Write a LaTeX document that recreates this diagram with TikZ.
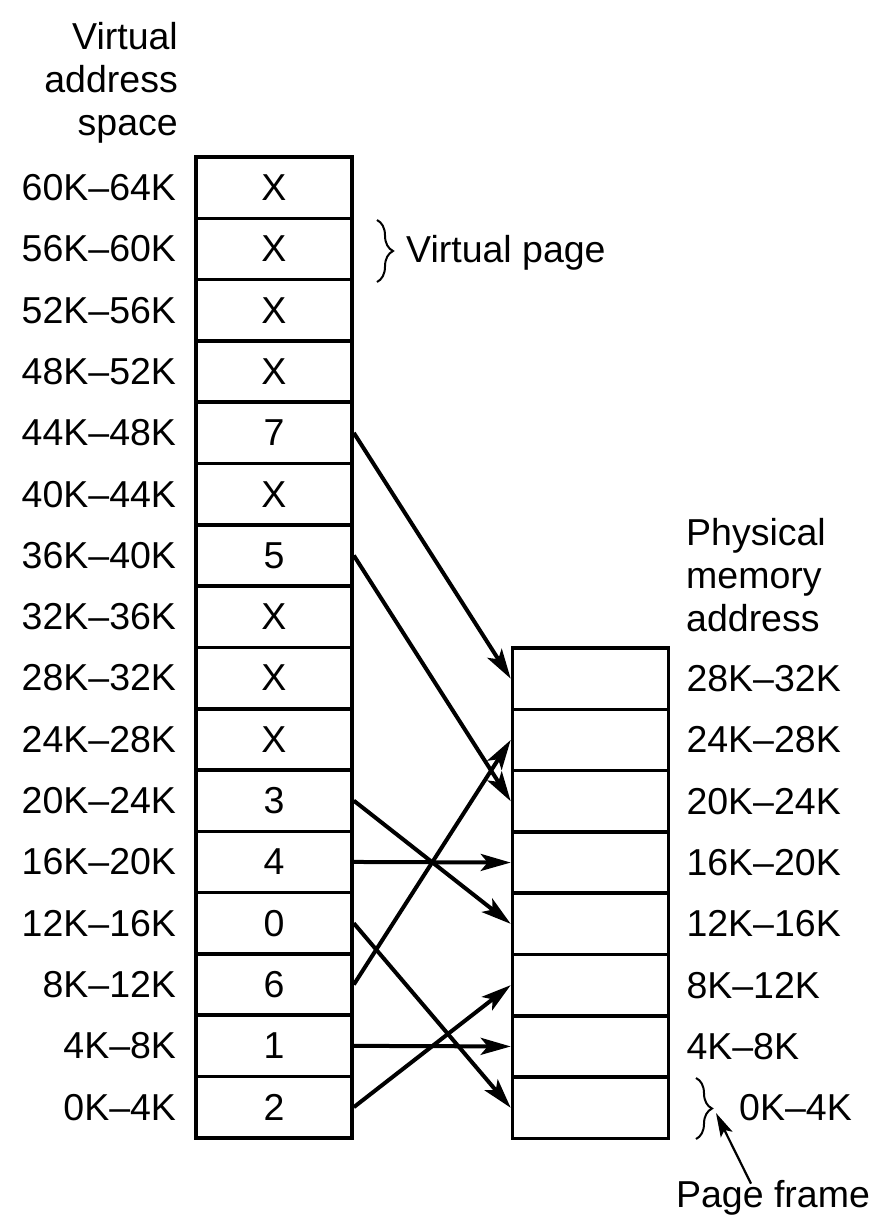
\documentclass[tikz,border=0pt]{standalone}
\usepackage{fontspec}
\setmainfont{Liberation Sans}
\usetikzlibrary{arrows.meta,decorations.pathreplacing}
\begin{document}
\begin{tikzpicture}[x=1pt,y=-1pt,
  cell/.style={draw,line width=3.6pt,minimum width=156pt,minimum height=61.3pt,inner sep=0pt,font=\fontsize{37.5}{43}\selectfont},
  lbl/.style={inner sep=0pt,font=\fontsize{37.5}{43}\selectfont},
  arr/.style={line width=4pt,-{Stealth[length=30pt,width=17pt,inset=7pt]}},
  arrs/.style={line width=2.2pt,-{Stealth[length=24pt,width=13pt,inset=5pt]}},
  brc/.style={decorate,decoration={brace,amplitude=16pt},line width=2pt}]
\useasboundingbox (0,0) rectangle (892,1227);
% headings
\node[lbl,anchor=base east] (H1) at (178,49) {Virtual};
\node[lbl,anchor=base east] (H2) at (178,92) {address};
\node[lbl,anchor=base east] (H3) at (178,135) {space};
\node[lbl,anchor=base west] (P1) at (686,545) {Physical};
\node[lbl,anchor=base west] (P2) at (686,588) {memory};
\node[lbl,anchor=base west] (P3) at (686,631) {address};
% virtual pages
\foreach \i/\t in {15/X,14/X,13/X,12/X,11/7,10/X,9/5,8/X,7/X,6/X,5/3,4/4,3/0,2/6,1/1,0/2}{
  \pgfmathsetmacro{\lo}{int(4*\i)}
  \pgfmathsetmacro{\hi}{int(4*\i+4)}
  \node[cell] (L\i) at (274,{157+(15-\i+0.5)*61.3}) {\t};
  \node[lbl,anchor=east] (LL\i) at ([xshift=-18pt]L\i.west) {\lo K–\hi K};
}
% physical frames
\foreach \j in {7,...,0}{
  \pgfmathsetmacro{\lo}{int(4*\j)}
  \pgfmathsetmacro{\hi}{int(4*\j+4)}
  \node[cell] (R\j) at (590.5,{648+(7-\j+0.5)*61.3}) {};
  \ifnum\j>0
    \node[lbl,anchor=west] (RL\j) at ([xshift=16pt]R\j.east) {\lo K–\hi K};
  \fi
}
\node[lbl,anchor=west] (RL0) at (739,1108) {0K–4K};
% mappings
\draw[arr] (L11.east) -- (R7.west);
\draw[arr] (L9.east) -- (R5.west);
\draw[arr] (L5.east) -- (R3.west);
\draw[arr] (L4.east) -- (R4.west);
\draw[arr] (L3.east) -- (R0.west);
\draw[arr] (L2.east) -- (R6.west);
\draw[arr] (L1.east) -- (R1.west);
\draw[arr] (L0.east) -- (R2.west);
% braces
\coordinate (B1a) at (377,220);
\coordinate (B1b) at (377,282);
\draw[brc] (B1a) -- (B1b);
\node[lbl,anchor=base west] (VP) at (406,262) {Virtual page};
\coordinate (B2a) at (696,1078);
\coordinate (B2b) at (696,1139);
\draw[brc] (B2a) -- (B2b);
\node[lbl,anchor=base] (PF) at (773,1207) {Page frame};
\coordinate (BT) at (716,1113);
\draw[arrs] ([xshift=-22pt,yshift=-4pt]PF.north) -- (BT);
\end{tikzpicture}
\end{document}
